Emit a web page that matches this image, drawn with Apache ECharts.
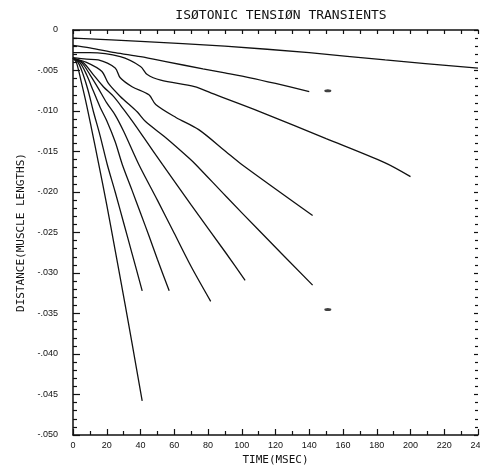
<!DOCTYPE html>
<html>
<head>
<meta charset="utf-8">
<script src="https://cdn.jsdelivr.net/npm/echarts@6/dist/echarts.min.js"></script>
<style>
html,body{margin:0;padding:0;background:#fff;overflow:hidden;}
#chart{width:480px;height:465px;}
</style>
</head>
<body>
<div id="chart"></div>
<script>
// ---- data (time in msec, distance in muscle lengths) ----
const titleText = 'ISØTONIC TENSIØN TRANSIENTS';
const xName = 'TIME(MSEC)';
const yName = 'DISTANCE(MUSCLE LENGTHS)';

const t1 = [0, 40, 90, 140, 185, 240];
const d1 = [-0.0010, -0.0014, -0.0020, -0.0028, -0.0037, -0.0047];

const t2 = [0, 10, 25, 40, 55, 77, 90, 105, 120, 140];
const d2 = [-0.0019, -0.0022, -0.0028, -0.0033, -0.0039, -0.0048, -0.0053, -0.0059, -0.0066, -0.0076];

const t3 = [0, 10, 28, 40, 44, 52, 72, 82, 111, 150, 185, 200];
const d3 = [-0.0028, -0.0028, -0.0033, -0.0045, -0.0055, -0.0062, -0.0070, -0.0078, -0.0101, -0.0134, -0.0164, -0.0181];

const t4 = [0, 8, 15, 25, 28, 35, 45, 49, 61, 74.5, 90.5, 100, 142];
const d4 = [-0.0034, -0.0036, -0.0037, -0.0047, -0.0059, -0.0070, -0.0080, -0.0092, -0.0108, -0.0123, -0.0150, -0.0166, -0.0229];

const t5 = [0, 8, 17, 21, 28, 38, 43, 55, 68.7, 72.7, 90.5, 110, 142];
const d5 = [-0.0035, -0.0040, -0.0051, -0.0066, -0.0082, -0.0101, -0.0113, -0.0133, -0.0158, -0.0166, -0.0205, -0.0247, -0.0315];

const t6 = [0, 6, 12, 18, 24, 30, 36, 42, 53, 70, 90.5, 102];
const d6 = [-0.0035, -0.0040, -0.0055, -0.0070, -0.0082, -0.0098, -0.0115, -0.0133, -0.0166, -0.0216, -0.0275, -0.0309];

const t7 = [0, 5, 10, 15, 20, 25, 30, 39, 50, 60, 70, 81.6];
const d7 = [-0.0035, -0.0040, -0.0055, -0.0072, -0.0090, -0.0105, -0.0125, -0.0166, -0.0210, -0.0251, -0.0292, -0.0335];

const t8 = [0, 4, 8, 12, 16, 20, 25, 29.2, 35, 40, 45, 50, 57];
const d8 = [-0.0035, -0.0040, -0.0055, -0.0075, -0.0095, -0.0112, -0.0138, -0.0166, -0.0198, -0.0226, -0.0254, -0.0283, -0.0322];

const t9 = [0, 3, 6, 9, 12, 16, 20.3, 25, 30, 35, 41];
const d9 = [-0.0035, -0.0040, -0.0055, -0.0075, -0.0100, -0.0130, -0.0166, -0.0200, -0.0238, -0.0276, -0.0322];

const t10 = [0, 2, 5, 8, 11, 15, 20, 25, 30.7, 35, 41];
const d10 = [-0.0035, -0.0040, -0.0065, -0.0092, -0.0122, -0.0163, -0.0216, -0.0272, -0.0337, -0.0387, -0.0458];

const markT = [151, 151];
const markD = [-0.0075, -0.0345];

const curves = [[t1,d1],[t2,d2],[t3,d3],[t4,d4],[t5,d5],[t6,d6],[t7,d7],[t8,d8],[t9,d9],[t10,d10]];

function pairs(t, d){ return t.map((v,i)=>[v, d[i]]); }

const ink = '#111';
const series = curves.map((c,i)=>({
  type:'line', xAxisIndex:0, yAxisIndex:0,
  data: pairs(c[0], c[1]),
  showSymbol:false, smooth:0.3, silent:true,
  lineStyle:{color:ink, width:1.3}
}));
series.push({
  type:'scatter', xAxisIndex:0, yAxisIndex:0,
  data: pairs(markT, markD),
  symbol:'circle', symbolSize:[7,3],
  itemStyle:{color:ink}, silent:true
});

const chart = echarts.init(document.getElementById('chart'), null, {renderer:'canvas'});
const labelFont = {fontFamily:'Liberation Sans, Arial, sans-serif', color:ink};
chart.setOption({
  animation:false,
  backgroundColor:'#fff',
  title:{
    text:titleText, left:276, top:4, textAlign:'center',
    textStyle:{fontFamily:'DejaVu Sans Mono, monospace', fontSize:13, fontWeight:'normal', color:ink}
  },
  grid:{left:73, right:2, top:30, bottom:30, containLabel:false, outerBoundsMode:'none'},
  xAxis:[{
    type:'value', min:0, max:240, interval:20, position:'bottom',
    name:xName, nameLocation:'middle', nameGap:20,
    nameTextStyle:{fontFamily:'DejaVu Sans Mono, monospace', fontSize:11, color:ink},
    axisLine:{show:true, onZero:false, lineStyle:{color:ink, width:1.5}},
    axisTick:{show:true, inside:true, length:6, lineStyle:{color:ink, width:1.2}},
    minorTick:{show:true, splitNumber:2, length:4, lineStyle:{color:ink, width:1.2}},
    axisLabel:Object.assign({fontSize:9, margin:6, showMaxLabel:true, hideOverlap:false}, labelFont),
    splitLine:{show:false}
  },{
    type:'value', min:0, max:240, interval:10, position:'top',
    axisLine:{show:true, onZero:false, lineStyle:{color:ink, width:1.5}},
    axisTick:{show:true, inside:true, length:4, lineStyle:{color:ink, width:1.2}},
    axisLabel:{show:false}, splitLine:{show:false}
  }],
  yAxis:[{
    type:'value', min:-0.05, max:0, interval:0.005, position:'left',
    name:yName, nameLocation:'middle', nameGap:36, nameRotate:90,
    nameTextStyle:{fontFamily:'DejaVu Sans Mono, monospace', fontSize:11, color:ink},
    axisLine:{show:true, onZero:false, lineStyle:{color:ink, width:1.5}},
    axisTick:{show:true, inside:true, length:7, lineStyle:{color:ink, width:1.2}},
    minorTick:{show:true, splitNumber:5, length:4, lineStyle:{color:ink, width:1.2}},
    axisLabel:Object.assign({fontSize:9, margin:15, formatter:function(v){
      if (Math.abs(v) < 1e-9) return '0';
      return '-' + Math.abs(v).toFixed(3).replace(/^0/, '');
    }}, labelFont),
    splitLine:{show:false}
  },{
    type:'value', min:-0.05, max:0, interval:0.005, position:'right',
    axisLine:{show:false, onZero:false},
    axisTick:{show:true, inside:true, length:4, lineStyle:{color:ink, width:1.2}},
    minorTick:{show:true, splitNumber:5, length:3, lineStyle:{color:ink, width:1.2}},
    axisLabel:{show:false}, splitLine:{show:false}
  }],
  series:series
});
</script>
</body>
</html>
